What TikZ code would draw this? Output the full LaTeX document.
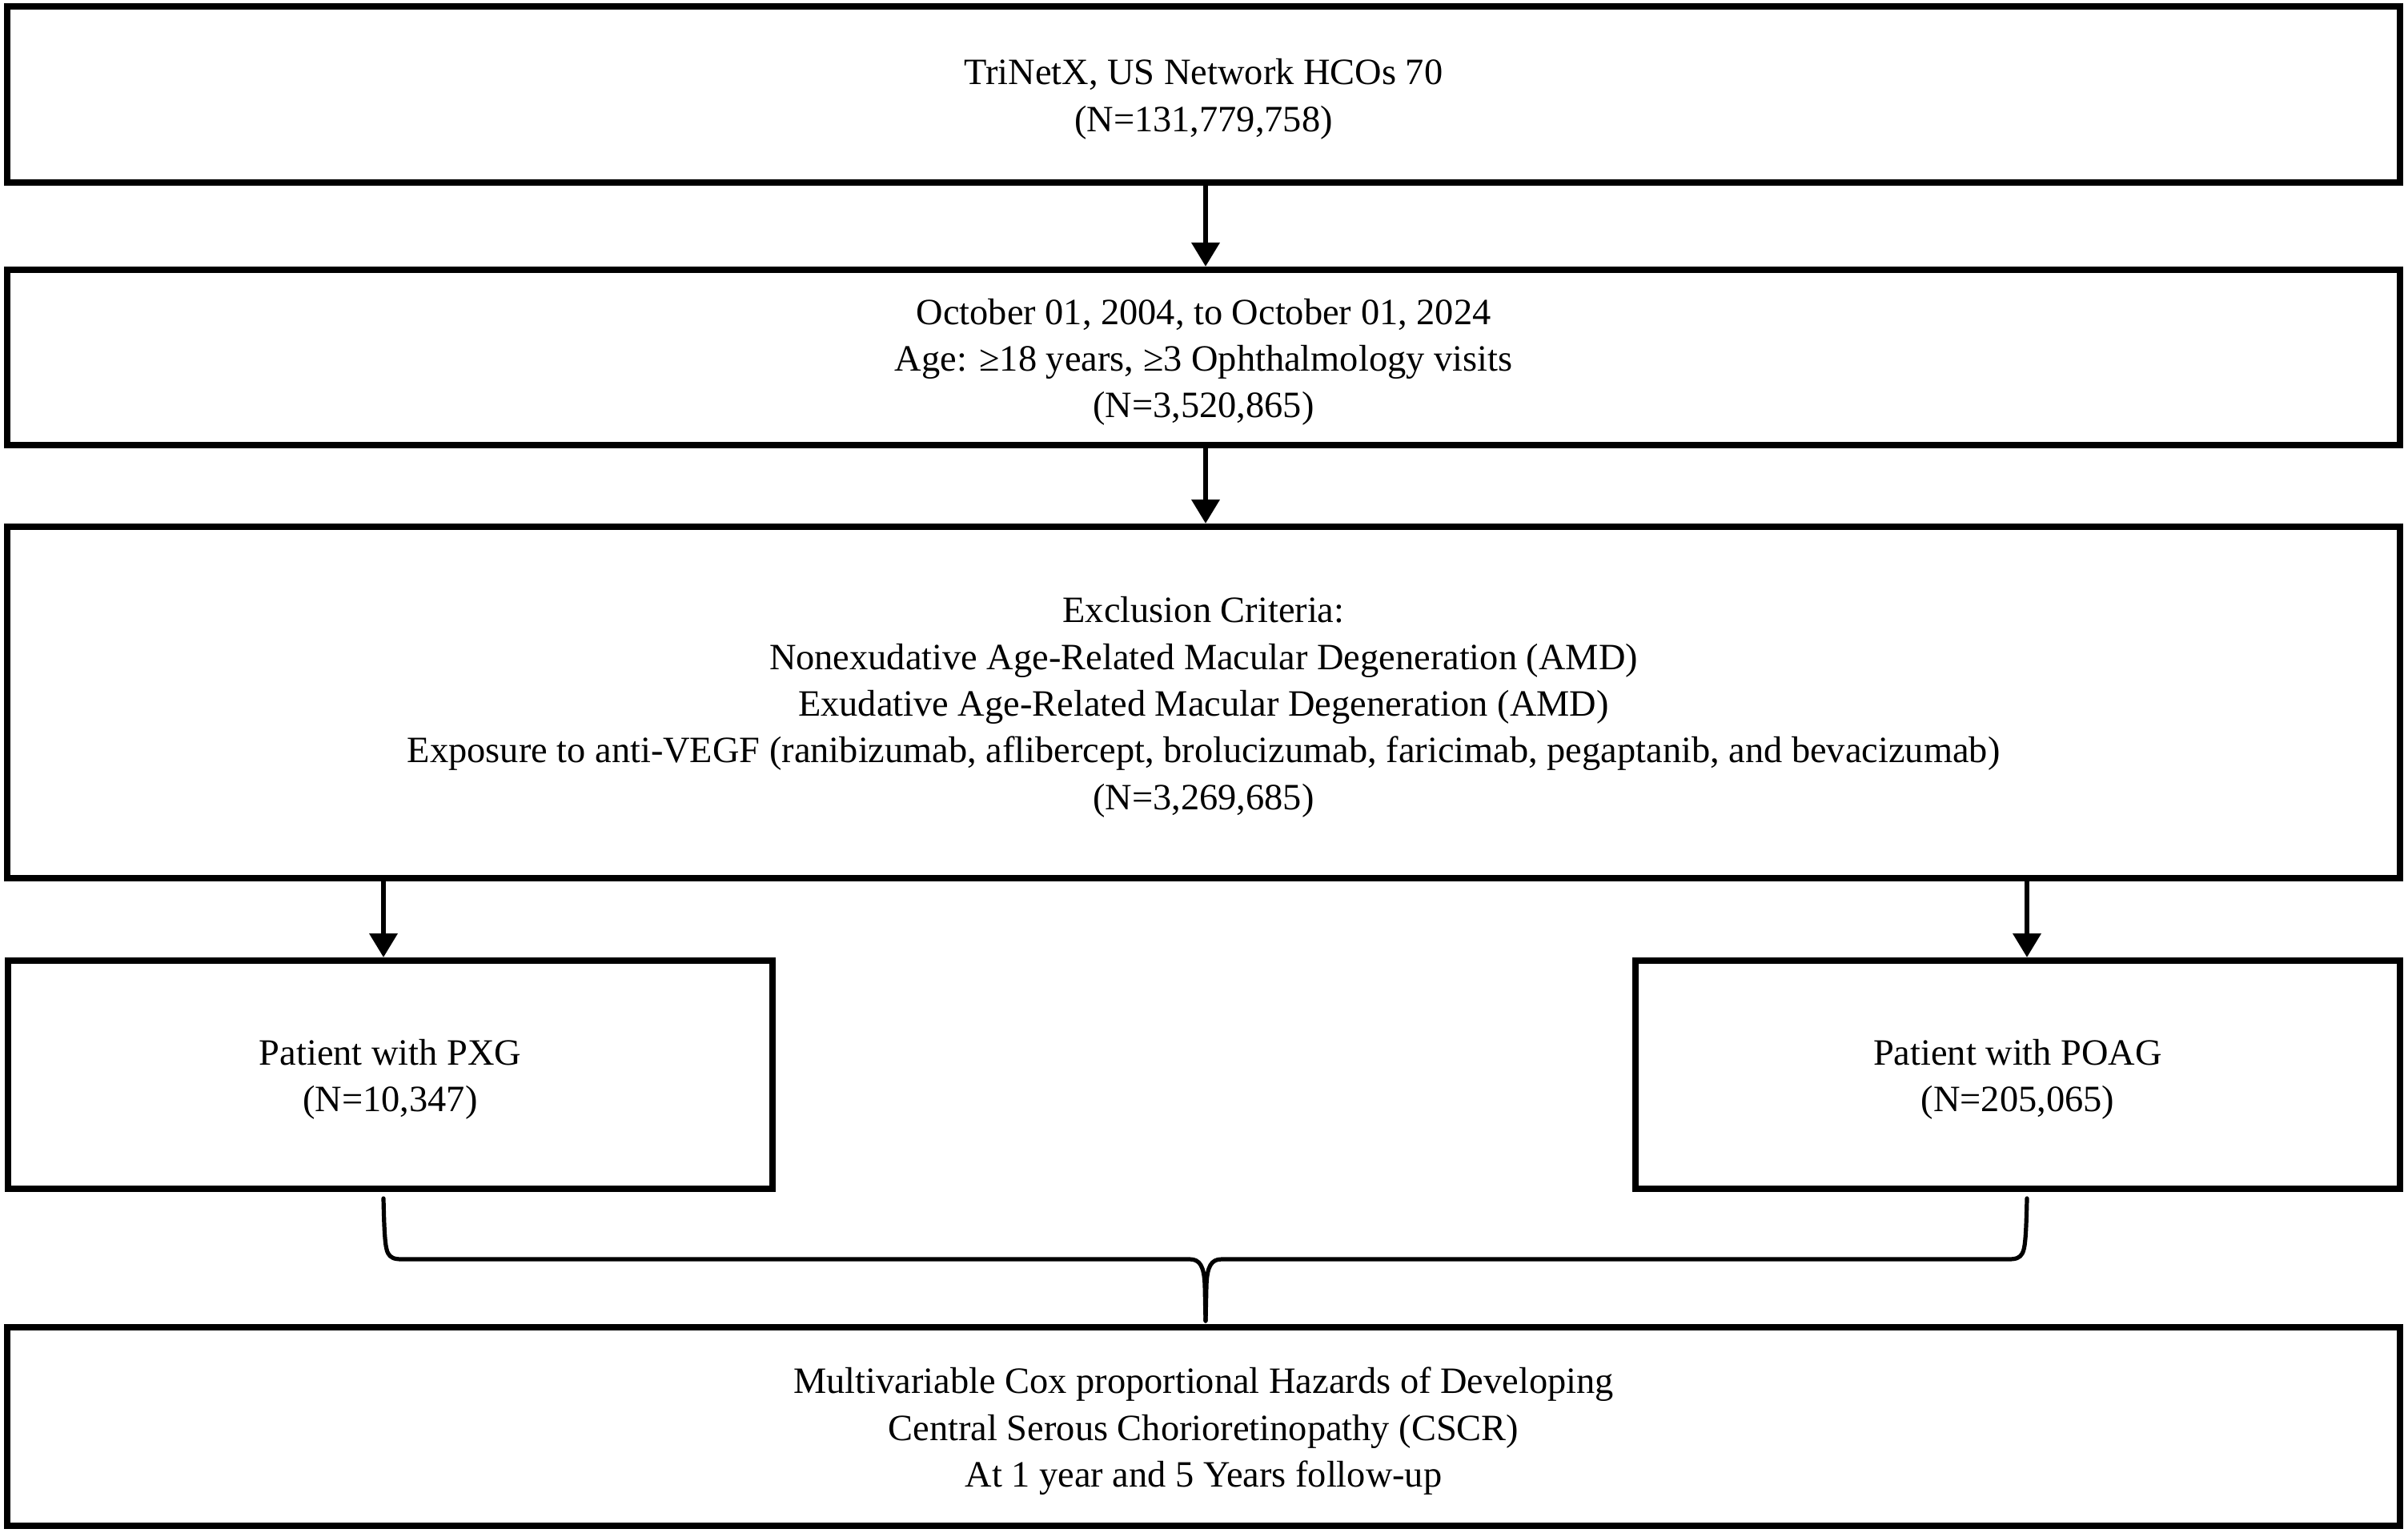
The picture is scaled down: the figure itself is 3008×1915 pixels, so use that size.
\documentclass[tikz,border=0pt]{standalone}
\usepackage{fontspec}
\setmainfont{Liberation Serif}
\usetikzlibrary{arrows.meta}
\newcommand\tgap{\rule{0pt}{11pt}}
\begin{document}
\begin{tikzpicture}[x=0.25pt,y=-0.25pt,
  box/.style={draw=black,line width=2pt,rectangle,inner sep=0pt,align=center,
    font=\fontsize{11.6}{14.6}\selectfont},
  wide/.style={minimum width=747.25pt},
  half/.style={minimum width=238.75pt},
  arr/.style={line width=1.7pt,-{Triangle[length=7.5pt,width=8.5pt]}},
  bracel/.style={line width=1.3pt,line cap=round,line join=round}]
\useasboundingbox (0,0) rectangle (3008,1915);
\node[box,wide,minimum height=55pt] (b1) at (1503.5,118) {\tgap TriNetX, US Network HCOs 70\\(N=131,779,758)};
\node[box,wide,minimum height=54.75pt] (b2) at (1503.5,446.5) {\tgap October 01, 2004, to October 01, 2024\\Age: ≥18 years, ≥3 Ophthalmology visits\\(N=3,520,865)};
\node[box,wide,minimum height=109.75pt] (b3) at (1503.5,877.5) {\tgap Exclusion Criteria:\\Nonexudative Age-Related Macular Degeneration (AMD)\\Exudative Age-Related Macular Degeneration (AMD)\\Exposure to anti-VEGF (ranibizumab, aflibercept, brolucizumab, faricimab, pegaptanib, and bevacizumab)\\(N=3,269,685)};
\node[box,half,minimum height=71.25pt] (pxg) at (487.5,1342.5) {\tgap Patient with PXG\\(N=10,347)};
\node[box,half,minimum height=71.25pt] (poag) at (2520.5,1342.5) {\tgap Patient with POAG\\(N=205,065)};
\node[box,wide,minimum height=62pt] (b4) at (1503.5,1782) {\tgap Multivariable Cox proportional Hazards of Developing\\Central Serous Chorioretinopathy (CSCR)\\At 1 year and 5 Years follow-up};
\coordinate (xm) at (1506,0);
\coordinate (xl) at (479,0);
\coordinate (xr) at (2532,0);
\draw[arr] (b1.south -| xm) -- (b2.north -| xm);
\draw[arr] (b2.south -| xm) -- (b3.north -| xm);
\draw[arr] (b3.south -| xl) -- (pxg.north -| xl);
\draw[arr] (b3.south -| xr) -- (poag.north -| xr);
\coordinate (tip) at (1506,1650);
\coordinate (ls) at (479,1497);
\coordinate (rs) at (2532,1497);
\draw[bracel] (ls) .. controls (480,1540) and (481,1560) .. (485,1566)
  .. controls (488,1571) and (492,1573) .. (502,1573) -- (1486,1573)
  .. controls (1499,1573) and (1504,1582) .. (1505,1605) -- (tip);
\draw[bracel] (rs) .. controls (2531,1540) and (2530,1560) .. (2526,1566)
  .. controls (2523,1571) and (2519,1573) .. (2509,1573) -- (1526,1573)
  .. controls (1513,1573) and (1508,1582) .. (1507,1605) -- (tip);
\end{tikzpicture}
\end{document}
